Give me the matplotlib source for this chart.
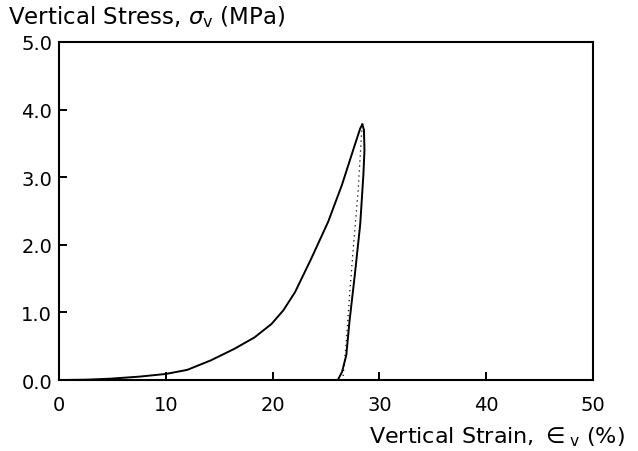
import matplotlib
matplotlib.use("Agg")
import matplotlib.pyplot as plt

# Data
load_strain = [0.0, 2.5, 4.8, 7.5, 10.0, 12.0, 14.2, 16.4, 18.3, 19.9, 21.0, 22.1,
               23.6, 25.2, 26.5, 27.6, 28.2, 28.4]
load_stress = [0.0, 0.005, 0.02, 0.05, 0.09, 0.15, 0.29, 0.46, 0.63, 0.83, 1.03, 1.30,
               1.79, 2.34, 2.89, 3.43, 3.72, 3.78]

unload_strain = [28.4, 28.55, 28.6, 28.5, 28.2, 27.7, 27.2, 26.9, 26.5, 26.1]
unload_stress = [3.78, 3.70, 3.40, 3.04, 2.30, 1.56, 0.87, 0.37, 0.12, 0.0]

reload_strain = [26.6, 26.9, 27.2, 27.6, 28.0, 28.3, 28.4]
reload_stress = [0.06, 0.56, 1.25, 2.04, 2.78, 3.57, 3.78]

x_ticks = [0, 10, 20, 30, 40, 50]
y_ticks = [0.0, 1.0, 2.0, 3.0, 4.0, 5.0]

plt.rcParams['font.family'] = ['DejaVu Sans']
plt.rcParams['mathtext.fontset'] = 'dejavusans'

fig = plt.figure(figsize=(6.38, 4.52), dpi=100)
ax = fig.add_axes([0.0925, 0.157, 0.837, 0.748])

ax.plot(load_strain, load_stress, color='black', lw=1.4, solid_joinstyle='round')
ax.plot(unload_strain, unload_stress, color='black', lw=1.4, solid_joinstyle='round')
ax.plot(reload_strain, reload_stress, color='black', lw=0.9, ls=(0, (1, 3)))

ax.set_xlim(0, 50)
ax.set_ylim(0, 5)
ax.set_xticks(x_ticks)
ax.set_yticks(y_ticks)
ax.set_xticklabels([str(t) for t in x_ticks])
ax.set_yticklabels([f"{t:.1f}" for t in y_ticks])
ax.tick_params(direction='in', length=6, width=1.4, labelsize=14)
ax.tick_params(axis='x', pad=11)
ax.tick_params(axis='y', pad=5)
for s in ax.spines.values():
    s.set_linewidth(1.5)

fig.text(0.013, 0.962, r"Vertical Stress, $\sigma_{\mathrm{v}}$ (MPa)", fontsize=16.5,
         ha='left', va='center')
fig.text(0.98, 0.032, r"Vertical Strain, $\in_{\mathrm{v}}$ (%)", fontsize=16,
         ha='right', va='center')

fig.savefig("out.png", dpi=100)
